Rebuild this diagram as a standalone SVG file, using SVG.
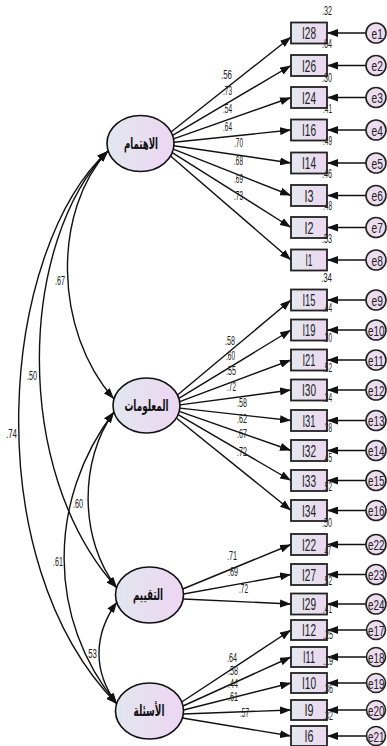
<svg xmlns="http://www.w3.org/2000/svg" width="387" height="746" viewBox="0 0 387 746">
<style>
.lat{fill:url(#gE);stroke:#111;stroke-width:1.6}
.obs{fill:url(#gR);stroke:#222;stroke-width:1.8}
.err{fill:#ecdcf0;stroke:#222;stroke-width:1.6}
.ln{stroke:#111;stroke-width:1.4;fill:none}
.t{font-family:"Liberation Sans",Arial,sans-serif;fill:#222}
.n{font-size:12px}
.r{font-size:16px}
.e{font-size:15px}
.ar{font-family:"DejaVu Sans",sans-serif;font-weight:bold;font-size:16px;fill:#111}
</style>
<defs>
<linearGradient id="gE" x1="0" y1="0" x2="1" y2="0"><stop offset="0" stop-color="#e2e7ef"/><stop offset="1" stop-color="#edd6f2"/></linearGradient>
<linearGradient id="gR" x1="0" y1="0" x2="1" y2="0"><stop offset="0" stop-color="#e4e8ef"/><stop offset="1" stop-color="#ecd8f0"/></linearGradient>
<marker id="ah" markerUnits="userSpaceOnUse" markerWidth="11" markerHeight="8" refX="11" refY="4" orient="auto-start-reverse"><path d="M0,0 L11,4 L0,8 z" fill="#111"/></marker>
</defs>

<g id="connectors">
<path class="ln" marker-start="url(#ah)" marker-end="url(#ah)" d="M108,151 C53,210 53,330 114,399"/>
<path class="ln" marker-start="url(#ah)" marker-end="url(#ah)" d="M108,151 C20,240 10,470 117,588"/>
<path class="ln" marker-start="url(#ah)" marker-end="url(#ah)" d="M108,151 C0,250 -25,560 117,704"/>
<path class="ln" marker-start="url(#ah)" marker-end="url(#ah)" d="M114,412 C79,460 79,540 117,588"/>
<path class="ln" marker-start="url(#ah)" marker-end="url(#ah)" d="M114,412 C47,500 47,620 117,704"/>
<path class="ln" marker-start="url(#ah)" marker-end="url(#ah)" d="M117,602 C93,635 93,672 117,704"/>
<line class="ln" marker-end="url(#ah)" x1="171" y1="132" x2="291" y2="37"/>
<line class="ln" marker-end="url(#ah)" x1="172.6" y1="135.4" x2="291" y2="65.5"/>
<line class="ln" marker-end="url(#ah)" x1="173.5" y1="138.9" x2="291" y2="97.5"/>
<line class="ln" marker-end="url(#ah)" x1="174" y1="142.3" x2="291" y2="130"/>
<line class="ln" marker-end="url(#ah)" x1="173.9" y1="145.7" x2="291" y2="163"/>
<line class="ln" marker-end="url(#ah)" x1="173.3" y1="149.1" x2="291" y2="195.5"/>
<line class="ln" marker-end="url(#ah)" x1="172.2" y1="152.6" x2="291" y2="227.5"/>
<line class="ln" marker-end="url(#ah)" x1="170.5" y1="156" x2="291" y2="260"/>
<line class="ln" marker-end="url(#ah)" x1="177.5" y1="395" x2="291" y2="300"/>
<line class="ln" marker-end="url(#ah)" x1="178.8" y1="398.3" x2="291" y2="330"/>
<line class="ln" marker-end="url(#ah)" x1="179.7" y1="401.6" x2="291" y2="360"/>
<line class="ln" marker-end="url(#ah)" x1="180" y1="404.9" x2="291" y2="390"/>
<line class="ln" marker-end="url(#ah)" x1="179.9" y1="408.1" x2="291" y2="420.5"/>
<line class="ln" marker-end="url(#ah)" x1="179.2" y1="411.4" x2="291" y2="450.5"/>
<line class="ln" marker-end="url(#ah)" x1="178.1" y1="414.7" x2="291" y2="480.5"/>
<line class="ln" marker-end="url(#ah)" x1="176.3" y1="418" x2="291" y2="510.5"/>
<line class="ln" marker-end="url(#ah)" x1="182.7" y1="589" x2="291" y2="544.5"/>
<line class="ln" marker-end="url(#ah)" x1="183.5" y1="594" x2="291" y2="574.5"/>
<line class="ln" marker-end="url(#ah)" x1="183.2" y1="599" x2="291" y2="604"/>
<line class="ln" marker-end="url(#ah)" x1="181.7" y1="702" x2="291" y2="630"/>
<line class="ln" marker-end="url(#ah)" x1="183" y1="706" x2="291" y2="657"/>
<line class="ln" marker-end="url(#ah)" x1="183.5" y1="710" x2="291" y2="683"/>
<line class="ln" marker-end="url(#ah)" x1="183.3" y1="714" x2="291" y2="710"/>
<line class="ln" marker-end="url(#ah)" x1="182.4" y1="718" x2="291" y2="736"/>
<line class="ln" marker-end="url(#ah)" x1="366" y1="33" x2="327" y2="33"/>
<line class="ln" marker-end="url(#ah)" x1="366" y1="65.5" x2="327" y2="65.5"/>
<line class="ln" marker-end="url(#ah)" x1="366" y1="97.5" x2="327" y2="97.5"/>
<line class="ln" marker-end="url(#ah)" x1="366" y1="130" x2="327" y2="130"/>
<line class="ln" marker-end="url(#ah)" x1="366" y1="163" x2="327" y2="163"/>
<line class="ln" marker-end="url(#ah)" x1="366" y1="195.5" x2="327" y2="195.5"/>
<line class="ln" marker-end="url(#ah)" x1="366" y1="227.5" x2="327" y2="227.5"/>
<line class="ln" marker-end="url(#ah)" x1="366" y1="260" x2="327" y2="260"/>
<line class="ln" marker-end="url(#ah)" x1="366" y1="300" x2="327" y2="300"/>
<line class="ln" marker-end="url(#ah)" x1="366" y1="330" x2="327" y2="330"/>
<line class="ln" marker-end="url(#ah)" x1="366" y1="360" x2="327" y2="360"/>
<line class="ln" marker-end="url(#ah)" x1="366" y1="390" x2="327" y2="390"/>
<line class="ln" marker-end="url(#ah)" x1="366" y1="420.5" x2="327" y2="420.5"/>
<line class="ln" marker-end="url(#ah)" x1="366" y1="450.5" x2="327" y2="450.5"/>
<line class="ln" marker-end="url(#ah)" x1="366" y1="480.5" x2="327" y2="480.5"/>
<line class="ln" marker-end="url(#ah)" x1="366" y1="510.5" x2="327" y2="510.5"/>
<line class="ln" marker-end="url(#ah)" x1="366" y1="544.5" x2="327" y2="544.5"/>
<line class="ln" marker-end="url(#ah)" x1="366" y1="574.5" x2="327" y2="574.5"/>
<line class="ln" marker-end="url(#ah)" x1="366" y1="604" x2="327" y2="604"/>
<line class="ln" marker-end="url(#ah)" x1="366" y1="630" x2="327" y2="630"/>
<line class="ln" marker-end="url(#ah)" x1="366" y1="657" x2="327" y2="657"/>
<line class="ln" marker-end="url(#ah)" x1="366" y1="683" x2="327" y2="683"/>
<line class="ln" marker-end="url(#ah)" x1="366" y1="710" x2="327" y2="710"/>
<line class="ln" marker-end="url(#ah)" x1="366" y1="736" x2="327" y2="736"/>
</g>

<g id="connector-labels" class="t n">
<text x="55" y="285" textLength="10" lengthAdjust="spacingAndGlyphs">.67</text>
<text x="27" y="380" textLength="10" lengthAdjust="spacingAndGlyphs">.50</text>
<text x="6" y="438" textLength="11" lengthAdjust="spacingAndGlyphs">.74</text>
<text x="73" y="508" textLength="10" lengthAdjust="spacingAndGlyphs">.60</text>
<text x="53" y="566" textLength="10" lengthAdjust="spacingAndGlyphs">.61</text>
<text x="86" y="658" textLength="11" lengthAdjust="spacingAndGlyphs">.53</text>
<text x="221" y="79" textLength="11" lengthAdjust="spacingAndGlyphs">.56</text>
<text x="223" y="95" textLength="9" lengthAdjust="spacingAndGlyphs">.73</text>
<text x="223" y="113" textLength="9" lengthAdjust="spacingAndGlyphs">.54</text>
<text x="223" y="131" textLength="9" lengthAdjust="spacingAndGlyphs">.64</text>
<text x="234" y="147" textLength="9" lengthAdjust="spacingAndGlyphs">.70</text>
<text x="234" y="165" textLength="9" lengthAdjust="spacingAndGlyphs">.68</text>
<text x="234" y="183" textLength="9" lengthAdjust="spacingAndGlyphs">.69</text>
<text x="234" y="200" textLength="9" lengthAdjust="spacingAndGlyphs">.73</text>
<text x="225" y="345" textLength="10" lengthAdjust="spacingAndGlyphs">.58</text>
<text x="226" y="360" textLength="9" lengthAdjust="spacingAndGlyphs">.60</text>
<text x="226" y="375" textLength="10" lengthAdjust="spacingAndGlyphs">.55</text>
<text x="227" y="391" textLength="9" lengthAdjust="spacingAndGlyphs">.72</text>
<text x="237" y="407" textLength="10" lengthAdjust="spacingAndGlyphs">.58</text>
<text x="237" y="423" textLength="10" lengthAdjust="spacingAndGlyphs">.62</text>
<text x="237" y="438" textLength="10" lengthAdjust="spacingAndGlyphs">.67</text>
<text x="237" y="456" textLength="10" lengthAdjust="spacingAndGlyphs">.72</text>
<text x="227" y="560" textLength="10" lengthAdjust="spacingAndGlyphs">.71</text>
<text x="228" y="576" textLength="10" lengthAdjust="spacingAndGlyphs">.69</text>
<text x="239" y="593" textLength="9" lengthAdjust="spacingAndGlyphs">.72</text>
<text x="227" y="662" textLength="10" lengthAdjust="spacingAndGlyphs">.64</text>
<text x="228" y="675" textLength="10" lengthAdjust="spacingAndGlyphs">.58</text>
<text x="228" y="688" textLength="10" lengthAdjust="spacingAndGlyphs">.44</text>
<text x="228" y="701" textLength="10" lengthAdjust="spacingAndGlyphs">.61</text>
<text x="240" y="717" textLength="9" lengthAdjust="spacingAndGlyphs">.57</text>
</g>

<g id="latent-1"><ellipse class="lat" cx="140.5" cy="143.5" rx="33.5" ry="28"/><text class="ar" x="141" y="149" text-anchor="middle" textLength="34" lengthAdjust="spacingAndGlyphs">الاهتمام</text></g>
<g id="latent-2"><ellipse class="lat" cx="146.5" cy="405.5" rx="33.5" ry="27.5"/><text class="ar" x="146.5" y="411" text-anchor="middle" textLength="44" lengthAdjust="spacingAndGlyphs">المعلومات</text></g>
<g id="latent-3"><ellipse class="lat" cx="149.5" cy="595" rx="34" ry="28"/><text class="ar" x="148" y="600" text-anchor="middle" textLength="30" lengthAdjust="spacingAndGlyphs">التقييم</text></g>
<g id="latent-4"><ellipse class="lat" cx="149.5" cy="711" rx="34" ry="28"/><text class="ar" x="149" y="716" text-anchor="middle" textLength="31" lengthAdjust="spacingAndGlyphs">الأسئلة</text></g>

<g id="observed" class="t">
<g id="I28"><rect class="obs" x="291" y="22.5" width="36" height="21"/><text class="r" x="309" y="39" text-anchor="middle" textLength="14" lengthAdjust="spacingAndGlyphs">I28</text></g>
<g id="I26"><rect class="obs" x="291" y="55" width="36" height="21"/><text class="r" x="309" y="71.5" text-anchor="middle" textLength="14" lengthAdjust="spacingAndGlyphs">I26</text></g>
<g id="I24"><rect class="obs" x="291" y="87" width="36" height="21"/><text class="r" x="309" y="103.5" text-anchor="middle" textLength="14" lengthAdjust="spacingAndGlyphs">I24</text></g>
<g id="I16"><rect class="obs" x="291" y="119.5" width="36" height="21"/><text class="r" x="309" y="136" text-anchor="middle" textLength="14" lengthAdjust="spacingAndGlyphs">I16</text></g>
<g id="I14"><rect class="obs" x="291" y="152.5" width="36" height="21"/><text class="r" x="309" y="169" text-anchor="middle" textLength="14" lengthAdjust="spacingAndGlyphs">I14</text></g>
<g id="I3"><rect class="obs" x="291" y="185" width="36" height="21"/><text class="r" x="309" y="201.5" text-anchor="middle" textLength="9" lengthAdjust="spacingAndGlyphs">I3</text></g>
<g id="I2"><rect class="obs" x="291" y="217" width="36" height="21"/><text class="r" x="309" y="233.5" text-anchor="middle" textLength="9" lengthAdjust="spacingAndGlyphs">I2</text></g>
<g id="I1"><rect class="obs" x="291" y="249.5" width="36" height="21"/><text class="r" x="309" y="266" text-anchor="middle" textLength="7" lengthAdjust="spacingAndGlyphs">I1</text></g>
<g id="I15"><rect class="obs" x="291" y="289.5" width="36" height="21"/><text class="r" x="309" y="306" text-anchor="middle" textLength="13" lengthAdjust="spacingAndGlyphs">I15</text></g>
<g id="I19"><rect class="obs" x="291" y="319.5" width="36" height="21"/><text class="r" x="309" y="336" text-anchor="middle" textLength="13" lengthAdjust="spacingAndGlyphs">I19</text></g>
<g id="I21"><rect class="obs" x="291" y="349.5" width="36" height="21"/><text class="r" x="309" y="366" text-anchor="middle" textLength="13" lengthAdjust="spacingAndGlyphs">I21</text></g>
<g id="I30"><rect class="obs" x="291" y="379.5" width="36" height="21"/><text class="r" x="309" y="396" text-anchor="middle" textLength="14" lengthAdjust="spacingAndGlyphs">I30</text></g>
<g id="I31"><rect class="obs" x="291" y="410" width="36" height="21"/><text class="r" x="309" y="426.5" text-anchor="middle" textLength="13" lengthAdjust="spacingAndGlyphs">I31</text></g>
<g id="I32"><rect class="obs" x="291" y="440" width="36" height="21"/><text class="r" x="309" y="456.5" text-anchor="middle" textLength="14" lengthAdjust="spacingAndGlyphs">I32</text></g>
<g id="I33"><rect class="obs" x="291" y="470" width="36" height="21"/><text class="r" x="309" y="486.5" text-anchor="middle" textLength="14" lengthAdjust="spacingAndGlyphs">I33</text></g>
<g id="I34"><rect class="obs" x="291" y="500" width="36" height="21"/><text class="r" x="309" y="516.5" text-anchor="middle" textLength="14" lengthAdjust="spacingAndGlyphs">I34</text></g>
<g id="I22"><rect class="obs" x="291" y="534" width="36" height="21"/><text class="r" x="309" y="550.5" text-anchor="middle" textLength="14" lengthAdjust="spacingAndGlyphs">I22</text></g>
<g id="I27"><rect class="obs" x="291" y="564" width="36" height="21"/><text class="r" x="309" y="580.5" text-anchor="middle" textLength="14" lengthAdjust="spacingAndGlyphs">I27</text></g>
<g id="I29"><rect class="obs" x="291" y="593.5" width="36" height="21"/><text class="r" x="309" y="610" text-anchor="middle" textLength="14" lengthAdjust="spacingAndGlyphs">I29</text></g>
<g id="I12"><rect class="obs" x="291" y="620" width="36" height="20"/><text class="r" x="309" y="636" text-anchor="middle" textLength="14" lengthAdjust="spacingAndGlyphs">I12</text></g>
<g id="I11"><rect class="obs" x="291" y="647" width="36" height="20"/><text class="r" x="309" y="663" text-anchor="middle" textLength="12" lengthAdjust="spacingAndGlyphs">I11</text></g>
<g id="I10"><rect class="obs" x="291" y="673" width="36" height="20"/><text class="r" x="309" y="689" text-anchor="middle" textLength="14" lengthAdjust="spacingAndGlyphs">I10</text></g>
<g id="I9"><rect class="obs" x="291" y="700" width="36" height="20"/><text class="r" x="309" y="716" text-anchor="middle" textLength="9" lengthAdjust="spacingAndGlyphs">I9</text></g>
<g id="I6"><rect class="obs" x="291" y="726" width="36" height="20"/><text class="r" x="309" y="742" text-anchor="middle" textLength="9" lengthAdjust="spacingAndGlyphs">I6</text></g>
</g>

<g id="r2-labels" class="t n">
<text x="322" y="15" textLength="10" lengthAdjust="spacingAndGlyphs">.32</text>
<text x="322" y="48" textLength="10" lengthAdjust="spacingAndGlyphs">.64</text>
<text x="322" y="82" textLength="10" lengthAdjust="spacingAndGlyphs">.30</text>
<text x="323" y="113" textLength="9" lengthAdjust="spacingAndGlyphs">.41</text>
<text x="323" y="145" textLength="9" lengthAdjust="spacingAndGlyphs">.49</text>
<text x="322" y="178" textLength="10" lengthAdjust="spacingAndGlyphs">.46</text>
<text x="323" y="210" textLength="9" lengthAdjust="spacingAndGlyphs">.48</text>
<text x="322" y="243" textLength="10" lengthAdjust="spacingAndGlyphs">.53</text>
<text x="321" y="282" textLength="11" lengthAdjust="spacingAndGlyphs">.34</text>
<text x="323" y="312" textLength="9" lengthAdjust="spacingAndGlyphs">.44</text>
<text x="323" y="342" textLength="9" lengthAdjust="spacingAndGlyphs">.30</text>
<text x="323" y="372" textLength="9" lengthAdjust="spacingAndGlyphs">.52</text>
<text x="323" y="402" textLength="9" lengthAdjust="spacingAndGlyphs">.34</text>
<text x="323" y="432" textLength="9" lengthAdjust="spacingAndGlyphs">.38</text>
<text x="323" y="462" textLength="9" lengthAdjust="spacingAndGlyphs">.45</text>
<text x="323" y="491" textLength="9" lengthAdjust="spacingAndGlyphs">.52</text>
<text x="322" y="527" textLength="10" lengthAdjust="spacingAndGlyphs">.50</text>
<text x="323" y="555" textLength="8" lengthAdjust="spacingAndGlyphs">.47</text>
<text x="323" y="585" textLength="9" lengthAdjust="spacingAndGlyphs">.52</text>
<text x="323" y="613" textLength="9" lengthAdjust="spacingAndGlyphs">.41</text>
<text x="323" y="639" textLength="10" lengthAdjust="spacingAndGlyphs">.25</text>
<text x="323" y="665" textLength="10" lengthAdjust="spacingAndGlyphs">.19</text>
<text x="323" y="693" textLength="10" lengthAdjust="spacingAndGlyphs">.36</text>
<text x="323" y="720" textLength="10" lengthAdjust="spacingAndGlyphs">.32</text>
</g>

<g id="errors" class="t">
<g id="e1"><circle class="err" cx="376" cy="33" r="10"/><text class="e" transform="matrix(0.68,0,0,1,371.5,38.5)">e1</text></g>
<g id="e2"><circle class="err" cx="376" cy="65.5" r="10"/><text class="e" transform="matrix(0.68,0,0,1,371.5,71)">e2</text></g>
<g id="e3"><circle class="err" cx="376" cy="97.5" r="10"/><text class="e" transform="matrix(0.68,0,0,1,371.5,103)">e3</text></g>
<g id="e4"><circle class="err" cx="376" cy="130" r="10"/><text class="e" transform="matrix(0.68,0,0,1,371.5,135.5)">e4</text></g>
<g id="e5"><circle class="err" cx="376" cy="163" r="10"/><text class="e" transform="matrix(0.68,0,0,1,371.5,168.5)">e5</text></g>
<g id="e6"><circle class="err" cx="376" cy="195.5" r="10"/><text class="e" transform="matrix(0.68,0,0,1,371.5,201)">e6</text></g>
<g id="e7"><circle class="err" cx="376" cy="227.5" r="10"/><text class="e" transform="matrix(0.68,0,0,1,371.5,233)">e7</text></g>
<g id="e8"><circle class="err" cx="376" cy="260" r="10"/><text class="e" transform="matrix(0.68,0,0,1,371.5,265.5)">e8</text></g>
<g id="e9"><circle class="err" cx="376" cy="300" r="10"/><text class="e" transform="matrix(0.68,0,0,1,371.5,305.5)">e9</text></g>
<g id="e10"><circle class="err" cx="376" cy="330" r="10"/><text class="e" transform="matrix(0.66,0,0,1,368,335.5)">e10</text></g>
<g id="e11"><circle class="err" cx="376" cy="360" r="10"/><text class="e" transform="matrix(0.66,0,0,1,368,365.5)">e11</text></g>
<g id="e12"><circle class="err" cx="376" cy="390" r="10"/><text class="e" transform="matrix(0.66,0,0,1,368,395.5)">e12</text></g>
<g id="e13"><circle class="err" cx="376" cy="420.5" r="10"/><text class="e" transform="matrix(0.66,0,0,1,368,426)">e13</text></g>
<g id="e14"><circle class="err" cx="376" cy="450.5" r="10"/><text class="e" transform="matrix(0.66,0,0,1,368,456)">e14</text></g>
<g id="e15"><circle class="err" cx="376" cy="480.5" r="10"/><text class="e" transform="matrix(0.66,0,0,1,368,486)">e15</text></g>
<g id="e16"><circle class="err" cx="376" cy="510.5" r="10"/><text class="e" transform="matrix(0.66,0,0,1,368,516)">e16</text></g>
<g id="e22"><circle class="err" cx="376" cy="544.5" r="10"/><text class="e" transform="matrix(0.66,0,0,1,368,550)">e22</text></g>
<g id="e23"><circle class="err" cx="376" cy="574.5" r="10"/><text class="e" transform="matrix(0.66,0,0,1,368,580)">e23</text></g>
<g id="e24"><circle class="err" cx="376" cy="604" r="10"/><text class="e" transform="matrix(0.66,0,0,1,368,609.5)">e24</text></g>
<g id="e17"><circle class="err" cx="376" cy="630" r="9.5"/><text class="e" transform="matrix(0.66,0,0,1,368,635.5)">e17</text></g>
<g id="e18"><circle class="err" cx="376" cy="657" r="9.5"/><text class="e" transform="matrix(0.66,0,0,1,368,662.5)">e18</text></g>
<g id="e19"><circle class="err" cx="376" cy="683" r="9.5"/><text class="e" transform="matrix(0.66,0,0,1,368,688.5)">e19</text></g>
<g id="e20"><circle class="err" cx="376" cy="710" r="9.5"/><text class="e" transform="matrix(0.66,0,0,1,368,715.5)">e20</text></g>
<g id="e21"><circle class="err" cx="376" cy="736" r="9.5"/><text class="e" transform="matrix(0.66,0,0,1,368,741.5)">e21</text></g>
</g>
</svg>
